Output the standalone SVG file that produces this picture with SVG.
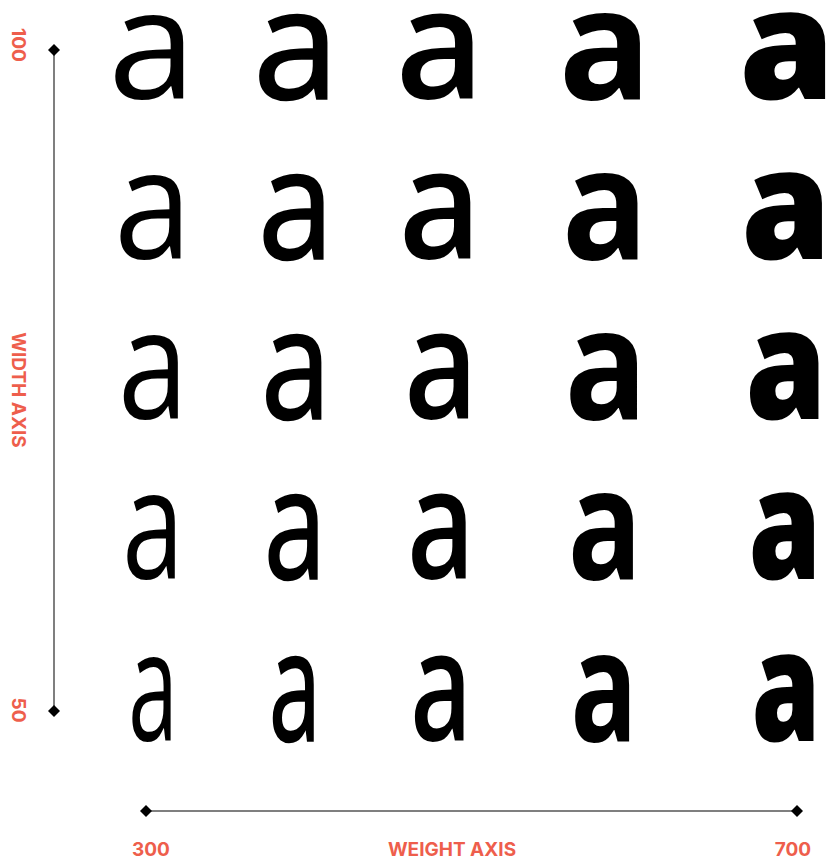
<svg xmlns="http://www.w3.org/2000/svg" width="832" height="860" viewBox="0 0 832 860">
<defs>
<marker id="dia" viewBox="-6 -6 12 12" markerWidth="12" markerHeight="12" markerUnits="userSpaceOnUse" refX="0" refY="0" orient="auto">
<path d="M0,-6 L6,0 L0,6 L-6,0 Z" fill="#000"/>
</marker>
<style>
.g{font-family:"Open Sans","Noto Sans",sans-serif;font-size:154px;fill:#000;text-anchor:middle}
.w3{font-weight:400}
.w4{font-weight:400;stroke:#000;stroke-width:2.4;stroke-linejoin:miter}
.w5{font-weight:600}.w6{font-weight:700}.w7{font-weight:800}
.lbl{font-family:Inter,"Liberation Sans",sans-serif;font-weight:700;font-size:19px;fill:#ee5e4c;text-anchor:middle}
.axis{stroke:#555;stroke-width:1.5;fill:none;marker-start:url(#dia);marker-end:url(#dia)}
</style>
</defs>
<rect width="832" height="860" fill="#fff"/>
<g id="connectors">
<line class="axis" x1="54" y1="50" x2="54" y2="711"/>
<line class="axis" x1="146" y1="811" x2="797" y2="811"/>
</g>
<g id="labels">
<text class="lbl" transform="translate(12,45) rotate(90)">100</text>
<text class="lbl" transform="translate(12,390) rotate(90)">WIDTH AXIS</text>
<text class="lbl" transform="translate(12,710) rotate(90)">50</text>
<text class="lbl" x="151" y="856">300</text>
<text class="lbl" x="452" y="856">WEIGHT AXIS</text>
<text class="lbl" x="793" y="856">700</text>
</g>
<g id="row1">
<text class="g w3" transform="translate(152,99) scale(1.03,1)">a</text>
<text class="g w4" transform="translate(296,99) scale(1,1)">a</text>
<text class="g w5" transform="translate(440,99) scale(1,1)">a</text>
<text class="g w6" transform="translate(605,99) scale(1,1)">a</text>
<text class="g w7" transform="translate(787,99) scale(1,1)">a</text>
</g>
<g id="row2">
<text class="g w3" transform="translate(153,259) scale(0.91,1)">a</text>
<text class="g w4" transform="translate(296,259) scale(0.88,1)">a</text>
<text class="g w5" transform="translate(440,259) scale(0.93,1)">a</text>
<text class="g w6" transform="translate(605,259) scale(0.93,1)">a</text>
<text class="g w7" transform="translate(786,259) scale(0.94,1)">a</text>
</g>
<g id="row3">
<text class="g w3" transform="translate(153,419) scale(0.82,1)">a</text>
<text class="g w4" transform="translate(296,419) scale(0.81,1)">a</text>
<text class="g w5" transform="translate(441,419) scale(0.83,1)">a</text>
<text class="g w6" transform="translate(606,419) scale(0.89,1)">a</text>
<text class="g w7" transform="translate(786,419) scale(0.85,1)">a</text>
</g>
<g id="row4">
<text class="g w3" transform="translate(153,579) scale(0.72,1)">a</text>
<text class="g w4" transform="translate(295,579) scale(0.72,1)">a</text>
<text class="g w5" transform="translate(441,579) scale(0.76,1)">a</text>
<text class="g w6" transform="translate(605,579) scale(0.8,1)">a</text>
<text class="g w7" transform="translate(785,579) scale(0.76,1)">a</text>
</g>
<g id="row5">
<text class="g w3" transform="translate(153,741) scale(0.58,1)">a</text>
<text class="g w4" transform="translate(295,741) scale(0.6,1)">a</text>
<text class="g w5" transform="translate(441,741) scale(0.69,1)">a</text>
<text class="g w6" transform="translate(604,741) scale(0.72,1)">a</text>
<text class="g w7" transform="translate(786,741) scale(0.72,1)">a</text>
</g>
</svg>
